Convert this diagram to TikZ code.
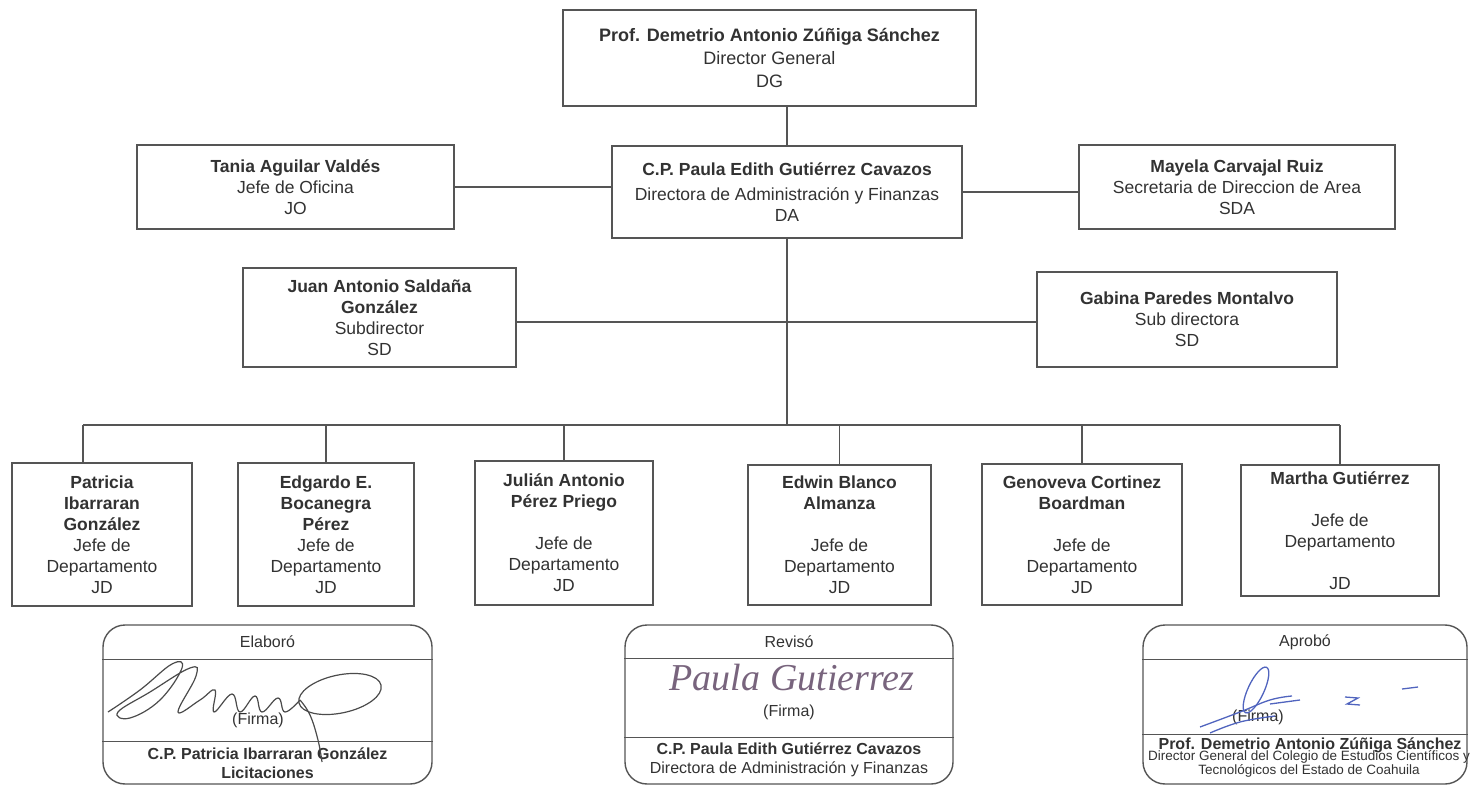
\documentclass[tikz,border=0pt]{standalone}
\usepackage{fontspec}
\setmainfont{Liberation Sans}
\newfontfamily\handfont{Liberation Serif}
\definecolor{ink}{RGB}{50,50,50}
\definecolor{rule}{RGB}{85,85,85}
\definecolor{pen}{RGB}{120,100,125}
\definecolor{bluepen}{RGB}{80,100,190}
\definecolor{graypen}{RGB}{75,75,75}

\begin{document}
\begin{tikzpicture}[
  x=1pt, y=-1pt,
  post/.style={rectangle, draw=rule, line width=1.6pt, inner sep=2pt, align=center, text=ink, font=\fontsize{17.5}{21}\selectfont},
  sigbox/.style={rectangle, rounded corners=22pt, draw=rule, line width=1.4pt},
  sigtext/.style={text=ink, align=center, inner sep=0pt, font=\fontsize{16}{19}\selectfont},
  link/.style={draw=rule, line width=1.6pt},
  divider/.style={draw=rule, line width=1.3pt},
  scrib/.style={draw=graypen, line width=1.2pt},
  bscrib/.style={draw=bluepen, line width=1.3pt}
]
\useasboundingbox (0,0) rectangle (1476,786);

\node[post, minimum width=413pt, minimum height=96pt, font=\fontsize{18}{23}\selectfont] (dg) at (769.5,58) {\textbf{Prof. Demetrio Antonio Zúñiga Sánchez}\\Director General\\DG};
\node[post, minimum width=350pt, minimum height=92pt] (da) at (787,192) {\textbf{C.P. Paula Edith Gutiérrez Cavazos}\\[4pt]Directora de Administración y Finanzas\\DA};
\node[post, minimum width=317pt, minimum height=84pt] (jo) at (295.5,187) {\textbf{Tania Aguilar Valdés}\\Jefe de Oficina\\JO};
\node[post, minimum width=316pt, minimum height=84pt] (sda) at (1237,187) {\textbf{Mayela Carvajal Ruiz}\\Secretaria de Direccion de Area\\SDA};

\node[post, minimum width=273pt, minimum height=99pt] (sdj) at (379.5,317.5) {\textbf{Juan Antonio Saldaña}\\\textbf{González}\\Subdirector\\SD};
\node[post, minimum width=300pt, minimum height=95pt] (sdg) at (1187,319.5) {\textbf{Gabina Paredes Montalvo}\\Sub directora\\SD};

\node[post, minimum width=180pt, minimum height=143pt] (pat) at (102,534.5) {\textbf{Patricia}\\\textbf{Ibarraran}\\\textbf{González}\\Jefe de\\Departamento\\JD};
\node[post, minimum width=176pt, minimum height=143pt] (edg) at (326,534.5) {\textbf{Edgardo E.}\\\textbf{Bocanegra}\\\textbf{Pérez}\\Jefe de\\Departamento\\JD};
\node[post, minimum width=178pt, minimum height=144pt] (jul) at (564,533) {\textbf{Julián Antonio}\\\textbf{Pérez Priego}\\[21pt]Jefe de\\Departamento\\JD};
\node[post, minimum width=183pt, minimum height=140pt] (edw) at (839.5,535) {\textbf{Edwin Blanco}\\\textbf{Almanza}\\[21pt]Jefe de\\Departamento\\JD};
\node[post, minimum width=200pt, minimum height=141pt] (gen) at (1082,534.5) {\textbf{Genoveva Cortinez}\\\textbf{Boardman}\\[21pt]Jefe de\\Departamento\\JD};
\node[post, minimum width=198pt, minimum height=131pt] (mar) at (1340,530.5) {\textbf{Martha Gutiérrez}\\[21pt]Jefe de\\Departamento\\[21pt]JD};

\coordinate (bus) at (787,425);
\coordinate (patdrop) at ([xshift=-19pt]pat.north);
\coordinate (sdjout) at ([yshift=-4.5pt]sdj.east);

\draw[link] (dg.south -| da.north) -- (da.north);
\draw[link] (jo.east) -- (jo.east -| da.west);
\draw[link] (da.east) -- (da.east -| sda.west);
\draw[link] (da.south) -- (bus);
\draw[link] (sdjout) -- (sdjout -| sdg.west);
\draw[link] (patdrop |- bus) -- (mar.north |- bus);
\draw[link] (patdrop) -- (patdrop |- bus);
\foreach \n in {edg,jul,edw,gen,mar}
  \draw[link] (\n.north) -- (\n.north |- bus);

% Signatures
\node[sigbox, minimum width=329pt, minimum height=159pt] (elab) at (267.5,704.5) {};
\node[sigtext, minimum height=34pt] (elabhead) at (267.5,642) {Elaboró};
\node[sigtext] (elabfirma) at (258,720) {(Firma)};
\node[sigtext, minimum height=42pt, font=\bfseries\fontsize{16}{19}\selectfont] (elabname) at (267.5,763) {C.P. Patricia Ibarraran González\\Licitaciones};
\draw[divider] (elab.west |- elabhead.south) -- (elab.east |- elabhead.south);
\draw[divider] (elab.west |- elabname.north) -- (elab.east |- elabname.north);

\node[sigbox, minimum width=328pt, minimum height=159pt] (rev) at (789,704.5) {};
\node[sigtext, minimum height=33pt] (revhead) at (789,641.5) {Revisó};
\node[text=pen, inner sep=0pt, font=\handfont\itshape\fontsize{38}{38}\selectfont] (revsign) at (792,678) {Paula Gutierrez};
\node[sigtext] (revfirma) at (789,712) {(Firma)};
\node[sigtext, minimum height=43pt] (revname) at (789,759.5) {\textbf{C.P. Paula Edith Gutiérrez Cavazos}\\Directora de Administración y Finanzas};
\draw[divider] (rev.west |- revhead.south) -- (rev.east |- revhead.south);
\draw[divider] (rev.west |- revname.north) -- (rev.east |- revname.north);

\node[sigbox, minimum width=324pt, minimum height=159pt] (apr) at (1305,704.5) {};
\node[sigtext, minimum height=34pt] (aprhead) at (1305,642) {Aprobó};
\node[sigtext] (aprfirma) at (1258,717) {(Firma)};
\node[sigtext, minimum height=20pt, font=\bfseries\fontsize{16}{19}\selectfont] (aprname) at (1310,745) {Prof. Demetrio Antonio Zúñiga Sánchez};
\node[sigtext, font=\fontsize{13.5}{12}\selectfont] (aprsub) at (1309,764) {Director General del Colegio de Estudios Científicos y\\Tecnológicos del Estado de Coahuila};
\draw[divider] (apr.west |- aprhead.south) -- (apr.east |- aprhead.south);
\draw[divider] (apr.west |- aprname.north) -- (apr.east |- aprname.north);

% hand strokes
\draw[scrib] plot[smooth, tension=0.7] coordinates {(108,712) (140,690) (172,664) (182,668) (160,700) (130,718) (118,712) (150,692) (190,668) (196,676) (178,712) (200,700) (215,690) (214,712) (232,694) (240,712) (255,696) (262,712) (278,698) (285,712) (300,700)};
\draw[scrib] (340,694) ellipse [x radius=42pt, y radius=19pt, rotate=12];
\draw[scrib] plot[smooth, tension=0.7] coordinates {(300,700) (310,715) (318,740) (322,762)};

\draw[bscrib] (1256,690) ellipse [x radius=8pt, y radius=25pt, rotate=-25];
\draw[bscrib] plot[smooth, tension=0.7] coordinates {(1200,727) (1240,712) (1270,700) (1292,696)};
\draw[bscrib] plot[smooth, tension=0.7] coordinates {(1210,733) (1240,722) (1275,716)};
\draw[bscrib] (1270,704) -- (1300,700);
\draw[bscrib] (1345,697) -- (1358,698) -- (1347,704) -- (1360,705);
\draw[bscrib] (1402,689) -- (1418,687);
\end{tikzpicture}
\end{document}
